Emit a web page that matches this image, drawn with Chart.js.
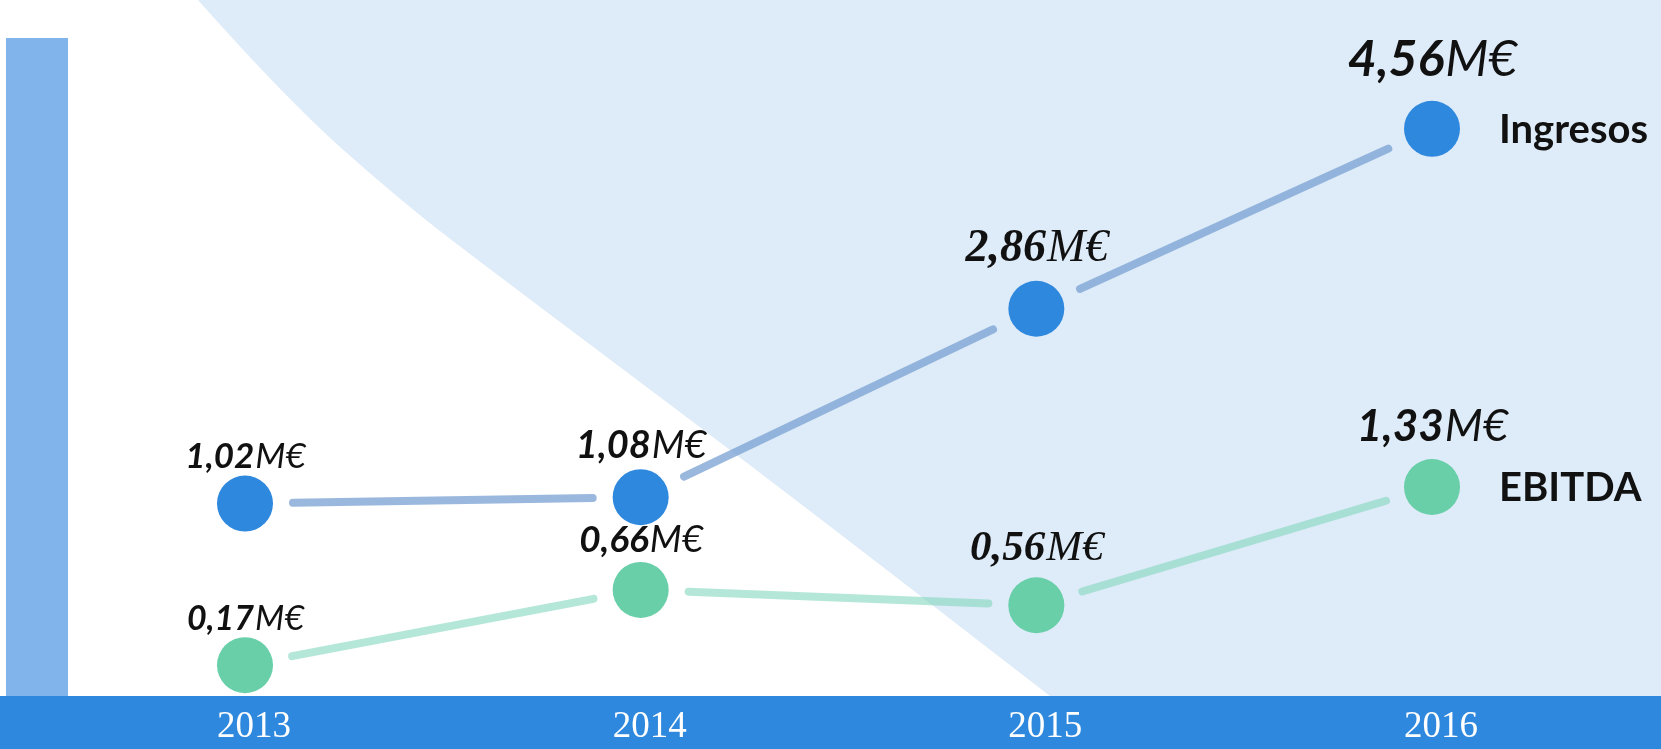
<!DOCTYPE html>
<html><head><meta charset="utf-8">
<script src="https://cdn.jsdelivr.net/npm/chart.js@4.4.0/dist/chart.umd.min.js"></script>
<style>html,body{margin:0;padding:0;background:#fff;overflow:hidden}#wrap{width:1661px;height:749px}</style>
</head><body><div id="wrap"><canvas id="c" width="1661" height="749"></canvas></div>
<script>
// ---- data ----
const years = ['2013', '2014', '2015', '2016'];
const ingresos = [1.02, 1.08, 2.86, 4.56];
const ebitda = [0.17, 0.66, 0.56, 1.33];
const seriesNames = ['Ingresos', 'EBITDA'];
const unit = 'M€';

// ---- styling ----
const BLUE = '#2e88de';
const GREEN = '#68cfa8';
const LINE_BLUE = 'rgba(120,160,210,0.75)';
const LINE_GREEN = 'rgba(130,215,190,0.6)';
const SANS = 'Lato';
const SERIF = '"Liberation Serif"';
// per-label font [family, size] for each series
const labelFonts = [
  [[SANS, 35], [SANS, 38], [SERIF, 46], [SANS, 50]],
  [[SANS, 34], [SANS, 37], [SERIF, 43], [SANS, 44]]
];
// outline of the light background region (decoration)
const bgEdge = [[198, 0], [287, 100], [400, 200], [480, 262], [760, 472], [1050, 696]];

const decorPlugin = {
  id: 'decor',
  beforeDraw(chart) {
    const ctx = chart.ctx, W = chart.width, H = chart.height;
    const bandTop = chart.chartArea.bottom;
    ctx.save();
    ctx.fillStyle = '#ffffff';
    ctx.fillRect(0, 0, W, H);
    ctx.fillStyle = '#deebf8';
    ctx.beginPath();
    ctx.moveTo(bgEdge[0][0], bgEdge[0][1]);
    for (let i = 1; i < bgEdge.length - 1; i++) {
      const mx = (bgEdge[i][0] + bgEdge[i + 1][0]) / 2;
      const my = (bgEdge[i][1] + bgEdge[i + 1][1]) / 2;
      ctx.quadraticCurveTo(bgEdge[i][0], bgEdge[i][1], mx, my);
    }
    const lastE = bgEdge[bgEdge.length - 1];
    ctx.lineTo(lastE[0], lastE[1]);
    ctx.lineTo(W, bandTop);
    ctx.lineTo(W, 0);
    ctx.closePath();
    ctx.fill();
    ctx.fillStyle = '#82b4ec';
    ctx.fillRect(6, 38, 62, bandTop - 38);
    ctx.fillStyle = BLUE;
    ctx.fillRect(0, bandTop, W, H - bandTop);
    ctx.restore();
  },
  beforeDatasetsDraw(chart) {
    const ctx = chart.ctx;
    const colors = [LINE_BLUE, LINE_GREEN];
    ctx.save();
    ctx.lineWidth = 8;
    ctx.lineCap = 'round';
    chart.data.datasets.forEach((ds, di) => {
      const pts = chart.getDatasetMeta(di).data;
      ctx.strokeStyle = colors[di];
      for (let i = 0; i < pts.length - 1; i++) {
        const a = pts[i], b = pts[i + 1];
        const dx = b.x - a.x, dy = b.y - a.y;
        const len = Math.hypot(dx, dy);
        const gap = 48;
        if (len <= 2 * gap) continue;
        const ux = dx / len, uy = dy / len;
        ctx.beginPath();
        ctx.moveTo(a.x + ux * gap, a.y + uy * gap);
        ctx.lineTo(b.x - ux * gap, b.y - uy * gap);
        ctx.stroke();
      }
    });
    ctx.restore();
  },
  afterDatasetsDraw(chart) {
    const ctx = chart.ctx;
    ctx.save();
    ctx.fillStyle = '#111111';
    chart.data.datasets.forEach((ds, di) => {
      const pts = chart.getDatasetMeta(di).data;
      ctx.textBaseline = 'alphabetic';
      ctx.textAlign = 'left';
      pts.forEach((p, i) => {
        const [fam, size] = labelFonts[di][i];
        const num = ds.data[i].toFixed(2).replace('.', ',');
        const fBold = `italic bold ${size}px ${fam}`;
        const fReg = `italic ${size}px ${fam}`;
        ctx.font = fBold;
        const w1 = ctx.measureText(num).width;
        ctx.font = fReg;
        const w2 = ctx.measureText(unit).width;
        const x0 = p.x - (w1 + w2) / 2;
        const yb = p.y - 36 - (size - 35) * 1.1;
        ctx.font = fBold;
        ctx.fillText(num, x0, yb);
        ctx.font = fReg;
        ctx.fillText(unit, x0 + w1 + 1, yb);
      });
      const last = pts[pts.length - 1];
      ctx.font = `bold 40px ${SANS}`;
      ctx.textBaseline = 'middle';
      ctx.fillText(ds.label, last.x + 67, last.y + 1);
    });
    ctx.restore();
  }
};

new Chart(document.getElementById('c'), {
  type: 'line',
  data: {
    labels: years,
    datasets: [
      {
        label: seriesNames[0], data: ingresos, yAxisID: 'y',
        showLine: false, pointRadius: 28, pointHoverRadius: 28,
        pointBackgroundColor: BLUE, pointBorderWidth: 0, borderColor: BLUE, clip: false
      },
      {
        label: seriesNames[1], data: ebitda, yAxisID: 'y1',
        showLine: false, pointRadius: 28, pointHoverRadius: 28,
        pointBackgroundColor: GREEN, pointBorderWidth: 0, borderColor: GREEN, clip: false
      }
    ]
  },
  options: {
    responsive: false,
    animation: false,
    devicePixelRatio: 1,
    events: [],
    layout: { padding: { left: 245, right: 229, top: 0, bottom: 0 } },
    plugins: { legend: { display: false }, tooltip: { enabled: false } },
    scales: {
      x: {
        type: 'category',
        offset: false,
        grid: { display: false, drawTicks: false },
        border: { display: false },
        ticks: { color: '#ffffff', font: { family: 'Liberation Serif', size: 37 }, padding: 9, labelOffset: 9, maxRotation: 0, autoSkip: false },
        afterFit(scale) { scale.height = 53; }
      },
      y: { display: false, min: -0.798, max: 5.512 },
      y1: { display: false, min: -0.031, max: 4.319 }
    }
  },
  plugins: [decorPlugin]
});
</script>
</body></html>
